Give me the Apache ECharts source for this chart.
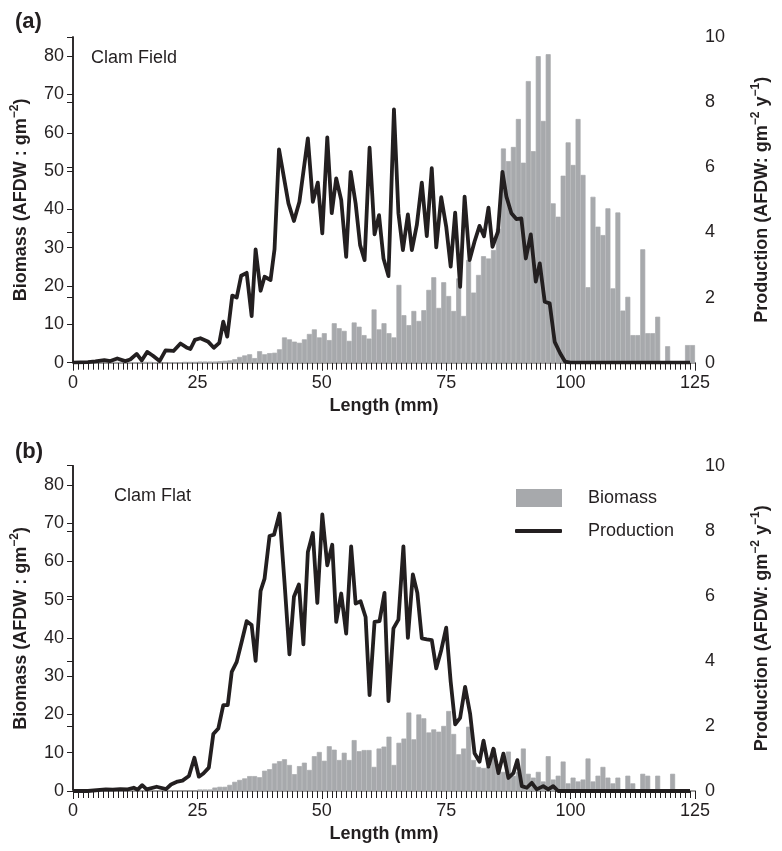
<!DOCTYPE html>
<html><head><meta charset="utf-8">
<script src="https://cdn.jsdelivr.net/npm/echarts@6/dist/echarts.min.js"></script>
<style>html,body{margin:0;padding:0;background:#fff}#c{width:782px;height:851px}</style>
</head><body><div id="c"></div>
<script>
// Tick values
const xTicks = [0, 25, 50, 75, 100, 125];
const leftTicks = [0, 10, 20, 30, 40, 50, 60, 70, 80];
const rightTicks = [0, 2, 4, 6, 8, 10];

// Panel (a) Clam Field: biomass per 1-mm length class (0..124)
const bioA = [
  0,0,0,0,0,0,0,0,
  0.2,0.2,0.1,0.1,0.1,
  0.1,0.2,0.2,0.1,0,0,0.1,
  0.1,0.1,0.2,0.2,0.2,
  0.3,0.3,0.3,0.3,0.4,
  0.5,0.6,0.9,1.5,1.9,
  2.2,1.2,3.0,2.2,2.5,
  2.6,3.5,6.6,6.1,5.5,
  5.2,6.1,7.5,8.7,6.6,
  7.7,5.9,10.3,9.0,8.3,
  5.7,10.5,9.4,7.2,6.3,
  13.9,8.7,10.3,7.7,6.6,
  20.3,12.4,9.8,13.5,10.9,
  13.7,19.0,22.3,14.3,21.0,
  17.4,13.5,22.0,12.2,26.8,
  18.3,22.9,27.8,27.2,29.4,
  35.0,55.9,52.6,56.3,63.6,
  52.2,73.5,55.2,80.0,63.1,
  80.5,41.6,38.1,48.8,57.5,
  51.6,63.6,49.0,19.7,43.3,
  35.5,33.3,40.3,19.4,39.2,
  13.6,17.2,7.2,7.2,29.6,
  7.7,7.7,12.0,0,4.3,
  0,0,0,4.6,4.6
];
// Panel (a) production: [length mm, production]
const prodA = [
  [0,0],[1.5,0.01],[3,0.02],[4.5,0.04],[6.3,0.08],[7.5,0.05],[8.9,0.13],[10.5,0.05],[11.5,0.1],
  [12.8,0.27],[13.8,0.07],[14.9,0.33],[16,0.22],[17.4,0.05],[18.6,0.38],[20.2,0.36],[21.6,0.59],
  [22.8,0.47],[23.6,0.42],[24.5,0.7],[25.6,0.75],[27.2,0.64],[28.3,0.46],[29.4,0.61],[30.2,1.26],
  [31,0.8],[32,2.06],[32.9,2.0],[33.8,2.67],[34.9,2.76],[35.9,1.43],[36.7,3.48],[37.7,2.21],
  [38.5,2.64],[39.7,2.54],[40.5,3.48],[41.4,6.55],[43.3,4.89],[44.4,4.35],[45.5,4.94],[47.2,6.89],
  [48.2,4.94],[49.2,5.53],[50.1,3.97],[51.1,6.92],[52,4.59],[52.9,5.66],[53.9,5.0],[54.9,3.25],
  [55.8,5.86],[56.8,4.89],[57.7,3.61],[58.6,3.15],[59.6,6.6],[60.6,3.94],[61.5,4.53],[62.4,3.2],
  [63.4,2.66],[64.5,7.78],[65.4,4.59],[66.3,3.46],[67.3,4.55],[68.1,3.46],[69.1,4.23],[70.1,5.53],
  [71.1,3.89],[72.1,5.97],[73,3.54],[74,5.08],[75,4.18],[75.9,2.95],[76.8,4.61],[77.8,2.33],
  [78.7,5.1],[79.7,3.15],[80.7,3.72],[81.7,4.2],[82.6,3.88],[83.5,4.76],[84.3,3.56],[85.4,4.02],
  [86.3,5.86],[87.1,5.1],[88.1,4.59],[89.1,4.41],[90.1,4.43],[91,3.2],[92,3.94],[93,2.49],
  [93.8,3.05],[94.8,1.87],[95.8,1.82],[96.8,0.64],[97.9,0.29],[98.9,0.03],[100,0],[124,0]
];

// Panel (b) Clam Flat
const bioB = [
  0,0,0,0,0,0,0,0,0,0,0,0,0,0,0,0,0,0,0,0,0,0,0,0,0,
  0.4,0.4,0.4,0.9,1.1,
  1.1,1.6,2.4,2.9,3.3,
  3.9,3.9,3.6,5.3,5.7,
  7.2,7.8,8.3,6.8,4.4,
  6.5,7.4,5.5,9.1,10.2,
  7.9,11.7,10.8,8.1,10.0,
  8.1,13.3,10.4,10.7,10.7,
  6.3,11.1,11.6,14.2,6.8,
  12.6,13.7,20.5,13.5,20.0,
  19.0,15.3,16.1,15.5,17.0,
  20.9,14.9,9.6,11.1,16.8,
  8.1,6.3,6.0,6.3,11.1,
  7.0,5.0,10.3,4.0,5.0,
  11.1,4.5,3.5,5.0,2.5,
  9.1,3.0,4.0,7.7,2.0,
  3.5,2.5,3.0,8.5,2.5,
  4.0,6.3,3.5,2.0,3.5,
  0,4.0,2.0,0,4.5,
  4.0,0,4.0,0,0,
  4.5,0,0,0,0
];
const prodB = [
  [0,0],[3,0],[6.6,0.05],[8,0.04],[9.5,0.06],[11,0.05],[12.2,0.1],[13,0.04],[13.9,0.18],[14.8,0.05],
  [16.8,0.13],[18.7,0.06],[19.7,0.2],[21,0.29],[22,0.32],[23.3,0.46],[24.4,1.02],[25.3,0.44],
  [26.2,0.54],[27.3,0.72],[28.2,1.75],[29.2,1.92],[30.2,2.64],[31.1,2.64],[31.9,3.66],[32.9,3.97],
  [33.9,4.59],[34.9,5.22],[35.9,5.1],[36.7,4.0],[37.7,6.15],[38.5,6.53],[39.5,7.84],[40.4,7.88],
  [41.5,8.53],[42.5,6.43],[43.5,4.2],[44.4,5.97],[45.4,6.35],[46.3,4.51],[47.2,7.35],[48.2,7.93],
  [49.1,5.78],[50.1,8.5],[51.1,6.94],[52.1,7.57],[52.9,5.2],[53.9,6.07],[54.9,4.84],[55.9,7.52],
  [56.8,5.76],[57.8,5.83],[58.8,5.35],[59.6,2.95],[60.6,5.2],[61.6,5.22],[62.6,6.09],[63.4,2.76],
  [64.4,5.0],[65.4,5.27],[66.4,7.52],[67.3,4.71],[68.3,6.66],[69.2,6.09],[70.1,4.69],[71.1,4.66],
  [72.1,4.64],[73,3.77],[74,4.33],[75,5.02],[75.9,3.36],[76.8,2.05],[77.8,2.25],[78.8,3.2],
  [79.8,2.38],[80.7,1.16],[81.7,0.9],[82.5,1.55],[83.5,0.75],[84.5,1.3],[85.5,0.55],[86.5,1.15],
  [87.5,0.4],[88.5,0.55],[89.3,0.95],[90.2,0.15],[91.2,0.1],[92.2,0.25],[93.2,0.05],[94.5,0.15],
  [95.5,0.05],[96.5,0.15],[97.5,0],[124,0]
];

const FONT = '"Liberation Sans", Arial, Helvetica, sans-serif';
const INK = '#231f20';
const GREY = '#a7a9ac';

function xAxesFor(gi) {
  return [{
    type: 'value', gridIndex: gi, min: 0, max: 125, interval: 25, position: 'bottom',
    axisLine: { show: true, lineStyle: { color: INK, width: 1.5 } },
    axisTick: { show: true, length: 8, lineStyle: { color: INK, width: 1 } },
    minorTick: { show: true, splitNumber: 25, length: 7, lineStyle: { color: INK, width: 1 } },
    axisLabel: { fontSize: 18, color: INK, fontFamily: FONT, margin: 11 },
    splitLine: { show: false }, minorSplitLine: { show: false },
    name: 'Length (mm)', nameLocation: 'middle', nameGap: 34,
    nameTextStyle: { fontSize: 18, fontWeight: 'bold', color: INK, fontFamily: FONT }
  }, {
    type: 'value', gridIndex: gi, min: 0, max: 125, position: 'top',
    axisLine: { show: true, lineStyle: { color: '#b5b5b5', width: 1.5 } },
    axisTick: { show: false }, axisLabel: { show: false }, splitLine: { show: false }
  }];
}
const supRich = { sup: { fontSize: 12, lineHeight: 12, fontWeight: 'bold', verticalAlign: 'top', color: INK, fontFamily: FONT } };
function yAxesFor(gi) {
  return [{
    type: 'value', gridIndex: gi, min: 0, max: 85, interval: 10, position: 'left',
    axisLine: { show: true, lineStyle: { color: INK, width: 1.5 } },
    axisTick: { show: true, length: 6, lineStyle: { color: INK, width: 1 } },
    axisLabel: { fontSize: 18, color: INK, fontFamily: FONT, margin: 9, showMaxLabel: false,
      formatter: v => (leftTicks.indexOf(v) >= 0 ? String(v) : '') },
    splitLine: { show: false },
    name: 'Biomass (AFDW : gm{sup|\u22122})', nameLocation: 'middle', nameGap: 38, nameRotate: 90,
    nameTextStyle: { fontSize: 18, fontWeight: 'bold', color: INK, fontFamily: FONT, lineHeight: 24, rich: supRich }
  }, {
    type: 'value', gridIndex: gi, min: 0, max: 10, interval: 2, position: 'right',
    axisLine: { show: true, lineStyle: { color: INK, width: 1.5 } },
    axisTick: { show: true, inside: true, length: 6, lineStyle: { color: INK, width: 1 } },
    axisLabel: { fontSize: 18, color: INK, fontFamily: FONT, margin: 10,
      formatter: v => (rightTicks.indexOf(v) >= 0 ? String(v) : '') },
    splitLine: { show: false },
    name: 'Production (AFDW: gm{sup|\u22122} y{sup|\u22121})', nameLocation: 'middle', nameGap: 55, nameRotate: 90,
    nameTextStyle: { fontSize: 18, fontWeight: 'bold', color: INK, fontFamily: FONT, lineHeight: 24, rich: supRich }
  }];
}

const barItem = { color: GREY, borderColor: GREY, borderWidth: 0.7 };
const chart = echarts.init(document.getElementById('c'), null, { renderer: 'canvas' });
const titleStyle = { color: INK, fontFamily: FONT };
chart.setOption({
  animation: false,
  backgroundColor: '#ffffff',
  grid: [
    { left: 73, top: 37, width: 636.5, height: 325.7 },
    { left: 73, top: 465.7, width: 636.5, height: 325.3 }
  ],
  title: [
    { text: '(a)', left: 15, top: 11, padding: 0, textStyle: Object.assign({ fontSize: 22, fontWeight: 'bold' }, titleStyle) },
    { text: 'Clam Field', left: 91, top: 49, padding: 0, textStyle: Object.assign({ fontSize: 18, fontWeight: 'normal' }, titleStyle) },
    { text: '(b)', left: 15, top: 441, padding: 0, textStyle: Object.assign({ fontSize: 22, fontWeight: 'bold' }, titleStyle) },
    { text: 'Clam Flat', left: 114, top: 487, padding: 0, textStyle: Object.assign({ fontSize: 18, fontWeight: 'normal' }, titleStyle) }
  ],
  legend: [
    { data: ['Biomass'], left: 516, top: 489, padding: 0, itemWidth: 44, itemHeight: 16, icon: 'rect', selectedMode: false,
      textStyle: { fontSize: 18, color: INK, fontFamily: FONT, padding: [0, 0, 0, 22] } },
    { data: ['Production'], left: 515, top: 522, padding: 0, itemWidth: 47, itemHeight: 4, icon: 'roundRect', selectedMode: false,
      textStyle: { fontSize: 18, color: INK, fontFamily: FONT, padding: [0, 0, 0, 21] } }
  ],
  xAxis: xAxesFor(0).concat(xAxesFor(1)),
  yAxis: yAxesFor(0).concat(yAxesFor(1)),
  series: [
    { type: 'bar', name: 'Biomass', xAxisIndex: 0, yAxisIndex: 0, barWidth: '100%',
      data: bioA.map((v, i) => [i + 0.5, v || null]), itemStyle: barItem, silent: true },
    { type: 'line', name: 'Production', xAxisIndex: 0, yAxisIndex: 1, data: prodA, symbol: 'none',
      lineStyle: { color: INK, width: 3.8, join: 'round' }, itemStyle: { color: INK }, z: 3, silent: true },
    { type: 'bar', name: 'Biomass', xAxisIndex: 2, yAxisIndex: 2, barWidth: '100%',
      data: bioB.map((v, i) => [i + 0.5, v || null]), itemStyle: barItem, silent: true },
    { type: 'line', name: 'Production', xAxisIndex: 2, yAxisIndex: 3, data: prodB, symbol: 'none',
      lineStyle: { color: INK, width: 3.8, join: 'round' }, itemStyle: { color: INK }, z: 3, silent: true }
  ]
});
</script></body></html>
